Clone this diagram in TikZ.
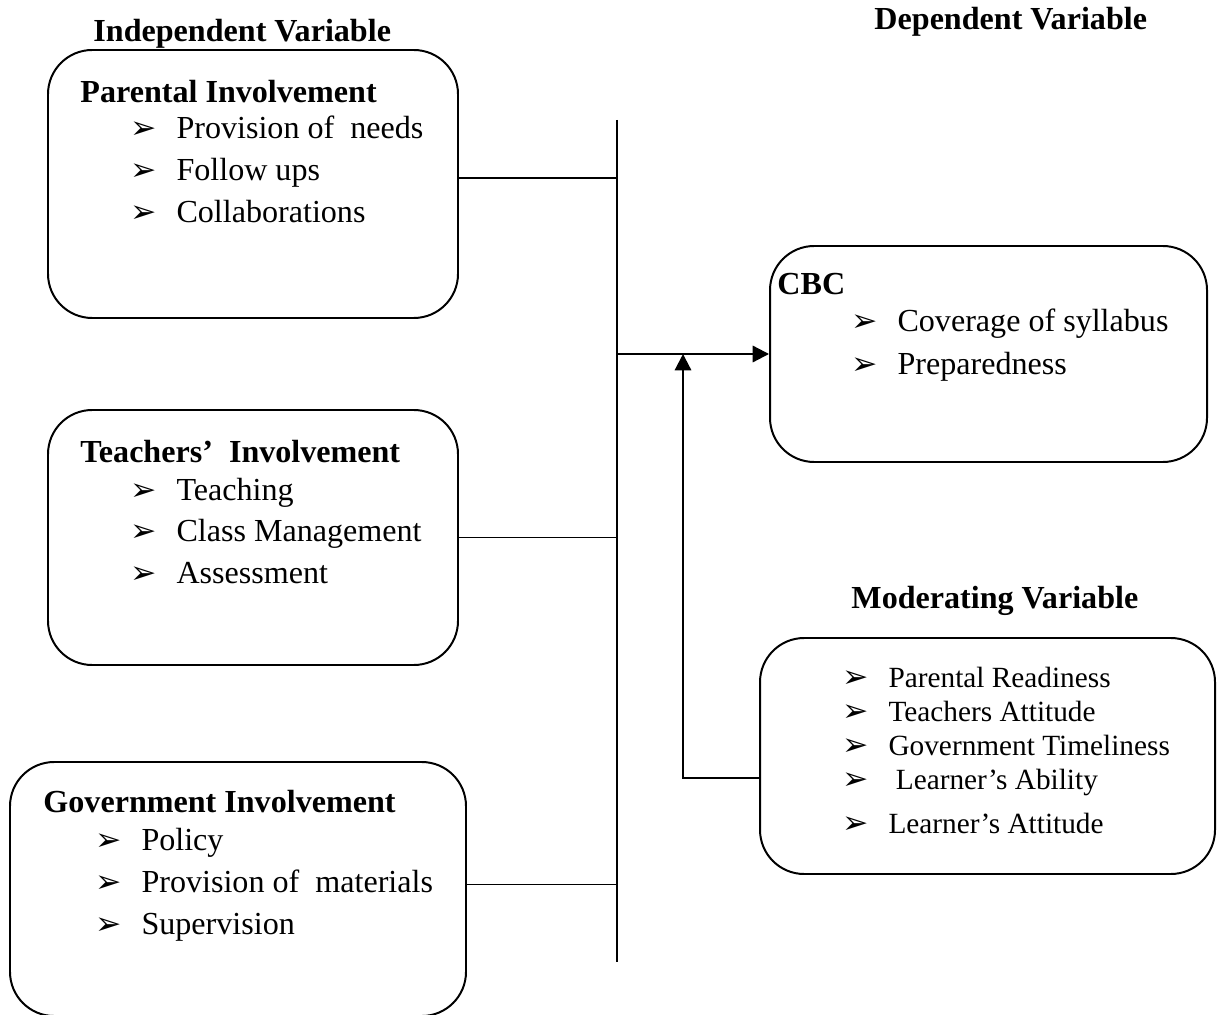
\documentclass[tikz,border=0pt]{standalone}
\usepackage{fontspec}
\setmainfont{Liberation Serif}
\newfontfamily\dejavu{DejaVu Sans}
\usepackage{tikz}
\usetikzlibrary{arrows.meta,fit,positioning}
\tikzset{box/.style={draw,rounded corners=19pt,inner sep=0pt,line width=0.85pt},
  hd/.style={anchor=base west,inner sep=0pt,font=\fontsize{13.8}{16}\selectfont\bfseries},
  itm/.style={anchor=base west,inner sep=0pt,font=\fontsize{13.8}{16}\selectfont},
  sitm/.style={anchor=base west,inner sep=0pt,font=\fontsize{12.6}{15}\selectfont},
  ln/.style={line width=0.7pt},
  arr/.style={line width=0.95pt,-{Triangle[length=7pt,width=7pt]}}}
\newcommand{\bul}{\makebox[19.8pt][l]{\dejavu\fontsize{13.5}{14}\selectfont ➢}}

\begin{document}
\begin{tikzpicture}[x=0.43pt,y=-0.43pt]
    \clip (0,0) rectangle (1218,1014);

    % titles
    \node[hd] (iv) at (93,42) {Independent Variable};
    \node[hd] (dv) at (874,30) {Dependent Variable};
    \node[hd] (mvt) at (851,608) {Moderating Variable};

    % parental box
    \node[box,fit={(48,50) (458,318)}] (pi) {};
    \node[hd] (pih) at (80,103) {Parental Involvement};
    \node[itm] (pi1) at (130,139) {\bul Provision of\ \ needs};
    \node[itm] (pi2) at (130,181) {\bul Follow ups};
    \node[itm] (pi3) at (130,223) {\bul Collaborations};

    % teachers box
    \node[box,fit={(48,410) (458,665)}] (ti) {};
    \node[hd] (tih) at (80,462) {Teachers’\ \ Involvement};
    \node[itm] (ti1) at (130,500) {\bul Teaching};
    \node[itm] (ti2) at (130,541) {\bul Class Management};
    \node[itm] (ti3) at (130,583) {\bul Assessment};

    % government box
    \node[box,fit={(10,762) (466,1016)}] (gi) {};
    \node[hd] (gih) at (43,812) {Government Involvement};
    \node[itm] (gi1) at (95,850) {\bul Policy};
    \node[itm] (gi2) at (95,892) {\bul Provision of\ \ materials};
    \node[itm] (gi3) at (95,934) {\bul Supervision};

    % cbc box
    \node[box,fit={(770,246) (1207,462)}] (cbc) {};
    \node[hd] (cbch) at (777,295) {CBC};
    \node[itm] (cbc1) at (851,332) {\bul Coverage of syllabus};
    \node[itm] (cbc2) at (851,375) {\bul Preparedness};

    % moderating box
    \node[box,fit={(760,638) (1215,874)}] (mv) {};
    \node[sitm] (mv1) at (842,687) {\bul Parental Readiness};
    \node[sitm] (mv2) at (842,721) {\bul Teachers Attitude};
    \node[sitm] (mv3) at (842,755) {\bul Government Timeliness};
    \node[sitm] (mv4) at (842,789) {\bul\ Learner’s Ability};
    \node[sitm] (mv5) at (842,833) {\bul Learner’s Attitude};

    % connectors
    \coordinate (top) at (617,120);
    \coordinate (bot) at (617,962);
    \coordinate (hub) at (683,354);
    \coordinate (mvin) at (760,778);
    \draw[ln] (top) -- (bot);
    \draw[ln] ([yshift=2.5pt]pi.east) -- ([yshift=2.5pt]pi.east -| top);
    \draw[ln] (ti.east) -- (ti.east -| top);
    \draw[ln] ([yshift=2pt]gi.east) -- ([yshift=2pt]gi.east -| top);
    \draw[arr] (cbc.west -| top) -- (cbc.west);
    \draw[arr] (mvin) -| (hub);
\end{tikzpicture}
\end{document}
